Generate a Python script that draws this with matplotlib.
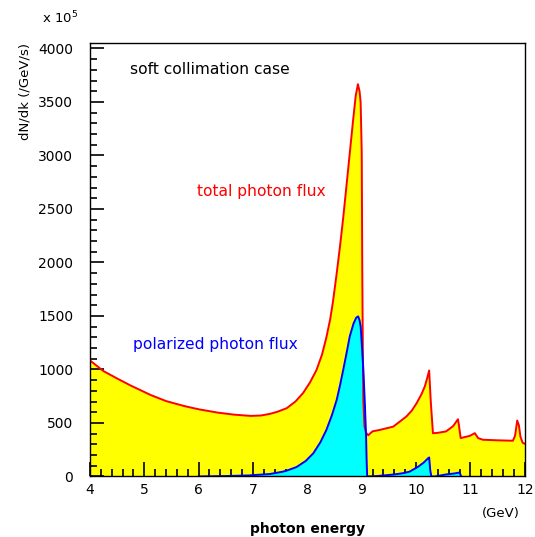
import numpy as np
import matplotlib
matplotlib.use("Agg")
import matplotlib.pyplot as plt
from matplotlib.ticker import MultipleLocator

# photon energy (GeV) and total flux (x 10^5 /GeV/s)
energy_total = [4.0, 4.25, 4.5, 4.75, 5.12, 5.4, 5.73, 6.0, 6.35, 6.65, 6.96,
                7.15, 7.31, 7.45, 7.62, 7.78, 7.92, 8.05, 8.17, 8.27, 8.35, 8.42,
                8.47, 8.54, 8.60, 8.66, 8.75, 8.843, 8.89, 8.93, 8.96, 8.98, 9.0,
                9.01, 9.02, 9.03, 9.05, 9.08, 9.12, 9.15, 9.2, 9.33, 9.58, 9.82,
                9.92, 10.01, 10.1, 10.16, 10.21, 10.24, 10.27, 10.31, 10.4, 10.55,
                10.68, 10.77, 10.79, 10.82, 10.99, 11.08, 11.14, 11.23, 11.5,
                11.78, 11.82, 11.86, 11.89, 11.92, 11.96, 12.0]
flux_total = [1085, 985, 916, 850, 761, 705, 659, 628, 597, 578, 566,
              570, 585, 605, 638, 700, 779, 880, 997, 1140, 1300, 1470,
              1630, 1900, 2150, 2420, 2870, 3338, 3560, 3666, 3600, 3497, 3029,
              1933, 1200, 700, 470, 410, 385, 400, 422, 435, 466, 560,
              615, 685, 770, 841, 930, 991, 700, 404, 408, 421,
              470, 535, 470, 359, 380, 405, 359, 343, 338,
              334, 380, 523, 480, 370, 315, 306]

# polarized flux
energy_pol = [4.0, 6.0, 6.5, 6.93, 7.31, 7.55, 7.65, 7.80, 7.97, 8.11, 8.24, 8.35,
              8.45, 8.54, 8.60, 8.66, 8.72, 8.78, 8.85, 8.90, 8.935, 8.96, 8.98,
              9.0, 9.03, 9.06, 9.08, 9.09, 9.10, 9.12, 9.3, 9.58, 9.75, 9.88,
              10.04, 10.14, 10.22, 10.24, 10.26, 10.28, 10.35, 10.55, 10.7,
              10.8, 10.83, 12.0]
flux_pol = [0, 0, 4, 10, 23, 45, 60, 88, 145, 217, 320, 435,
            570, 716, 850, 997, 1150, 1309, 1430, 1485, 1496, 1460, 1403,
            1250, 997, 650, 373, 150, 0, 0, 5, 18, 30, 45,
            92, 130, 170, 178, 60, 0, 0, 19, 28,
            37, 0, 0]

fig = plt.figure(figsize=(5.35, 5.37), dpi=100)
ax = fig.add_axes([0.168, 0.1127, 0.813, 0.807])

et = np.array(energy_total); ft = np.array(flux_total)
ep = np.array(energy_pol); fp = np.array(flux_pol)

ax.fill_between(et, 0, ft, color='#ffff00', lw=0, zorder=1)
ax.plot(et, ft, color='#ff0000', lw=1.4, zorder=3, solid_joinstyle='round')
ax.fill_between(ep, 0, fp, color='#00ffff', lw=0, zorder=2)
vis = np.zeros(len(fp), bool)
for i in range(len(fp)):
    lo, hi = max(i - 1, 0), min(i + 2, len(fp))
    vis[i] = np.any(fp[lo:hi] > 0)
ax.plot(ep, np.ma.masked_where(~vis, fp), color='#0000ff', lw=1.4, zorder=4,
        solid_joinstyle='round')

ax.set_xlim(4, 12)
ax.set_ylim(0, 4050)
ax.xaxis.set_major_locator(MultipleLocator(1))
ax.xaxis.set_minor_locator(MultipleLocator(0.2))
ax.yaxis.set_major_locator(MultipleLocator(500))
ax.yaxis.set_minor_locator(MultipleLocator(100))
ax.tick_params(which='both', direction='in', top=False, right=False,
               labelsize=10, width=1.2, color='black')
ax.tick_params(which='major', length=10)
ax.tick_params(which='minor', length=5)
ax.tick_params(axis='x', pad=5)
ax.tick_params(axis='y', pad=12)
for s in ax.spines.values():
    s.set_linewidth(1.0)
    s.set_zorder(5)

ax.set_ylabel('dN/dk (/GeV/s)', loc='top', fontsize=9.5, labelpad=5)
ax.set_xlabel('photon energy', fontsize=10, fontweight='bold', labelpad=18)
ax.text(0.989, -0.085, '(GeV)', transform=ax.transAxes, ha='right', va='center', fontsize=9.5)
fig.text(0.078, 0.966, r'x 10$^{\mathregular{5}}$', fontsize=9.5, ha='left', va='center')

ax.text(4.74, 3800, 'soft collimation case', fontsize=11.2, color='black', va='center')
ax.text(5.97, 2662, 'total photon flux', fontsize=11.2, color='#ff0000', va='center')
ax.text(4.80, 1233, 'polarized photon flux', fontsize=11.2, color='#0000ff', va='center')

fig.savefig('out.png', dpi=100)
